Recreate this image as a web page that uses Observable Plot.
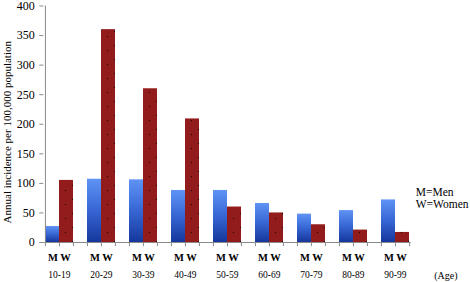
<!DOCTYPE html>
<html>
<head>
<meta charset="utf-8">
<script src="https://cdn.jsdelivr.net/npm/d3@7"></script>
<script src="https://cdn.jsdelivr.net/npm/@observablehq/plot@0.6"></script>
<style>
  html, body { margin: 0; padding: 0; background: #fff; }
  #chart { width: 470px; height: 282px; }
  svg { font-family: "Liberation Serif", "Times New Roman", serif; }
</style>
</head>
<body>
<div id="chart"></div>
<script>
const ages = ["10-19", "20-29", "30-39", "40-49", "50-59", "60-69", "70-79", "80-89", "90-99"];
const men = [27, 107, 106, 88, 88, 66, 48, 54, 72];
const women = [105, 360, 260, 209, 60, 50, 30, 21, 17];
const yTicks = [0, 50, 100, 150, 200, 250, 300, 350, 400];
const yLabel = "Annual incidence per 100,000 population";
const legendLines = ["M=Men", "W=Women"];
const xUnit = "(Age)";

// slots: M, W, (gap) per age group, last gap omitted
const keys = [];
ages.forEach((a, i) => {
  keys.push(a + "|M", a + "|W");
  if (i < ages.length - 1) keys.push(a + "|_");
});
const bars = [];
ages.forEach((a, i) => {
  bars.push({key: a + "|M", sex: "M", value: men[i]});
  bars.push({key: a + "|W", sex: "W", value: women[i]});
});

const W = 470, H = 282;
const mL = 43.3, mR = 59.3, mT = 5.5, mB = 40;
const bw = (W - mL - mR) / keys.length;
const axisGray = "#8a8a8a";

const plot = Plot.plot({
  width: W,
  height: H,
  marginLeft: mL,
  marginRight: mR,
  marginTop: mT,
  marginBottom: mB,
  style: {fontFamily: "'Liberation Serif', 'Times New Roman', serif", background: "white", color: "black"},
  x: {type: "band", domain: keys, padding: 0, axis: null},
  y: {domain: [0, 400], axis: null},
  marks: [
    Plot.barY(bars.filter(d => d.sex === "M"), {x: "key", y: "value", fill: "url(#gradM)"}),
    Plot.barY(bars.filter(d => d.sex === "W"), {x: "key", y: "value", fill: "url(#patW)"}),
    Plot.ruleY([0], {stroke: axisGray, strokeWidth: 1}),
    Plot.ruleX([keys[0]], {x: d => d, dx: -bw / 2, y1: 0, y2: 400, stroke: axisGray}),
    Plot.ruleX(keys, {x: d => d, dx: -bw / 2, y1: 0, y2: -7, stroke: axisGray}),
    Plot.ruleX([keys[keys.length - 1]], {x: d => d, dx: bw / 2, y1: 0, y2: -7, stroke: axisGray}),
    Plot.axisY({ticks: yTicks, tickSize: 4, tickPadding: 5, fontSize: 12, stroke: axisGray, fill: "black", label: null}),
    Plot.text(ages, {x: d => d + "|W", dx: -bw / 2, frameAnchor: "bottom", dy: 18, lineAnchor: "bottom",
      text: () => "M W", fontSize: 10.5, fontWeight: "bold", fill: "black"}),
    Plot.text(ages, {x: d => d + "|W", dx: -bw / 2, frameAnchor: "bottom", dy: 35.5, lineAnchor: "bottom",
      text: d => d, fontSize: 9.5, fill: "black"}),
    Plot.text([xUnit], {frameAnchor: "bottom-right", dx: 23, dy: 36.5, lineAnchor: "bottom", textAnchor: "start",
      text: d => d, fontSize: 10, fill: "black"}),
    Plot.text([legendLines[0]], {frameAnchor: "bottom-right", dx: 4.5, dy: -47, lineAnchor: "bottom", textAnchor: "start",
      text: d => d, fontSize: 11.5, fill: "black"}),
    Plot.text([legendLines[1]], {frameAnchor: "bottom-right", dx: 4.5, dy: -35, lineAnchor: "bottom", textAnchor: "start",
      text: d => d, fontSize: 11.5, fill: "black"}),
    Plot.text([yLabel], {frameAnchor: "left", dx: -36, dy: 8, rotate: -90, textAnchor: "middle", lineAnchor: "middle",
      text: d => d, fontSize: 11, fill: "black"})
  ]
});

// gradient & pattern definitions
const ns = "http://www.w3.org/2000/svg";
const defs = document.createElementNS(ns, "defs");
defs.innerHTML = `
  <linearGradient id="gradM" x1="0" y1="0" x2="0" y2="1">
    <stop offset="0" stop-color="#5f93f4"/>
    <stop offset="0.5" stop-color="#3766d4"/>
    <stop offset="1" stop-color="#15379c"/>
  </linearGradient>
  <pattern id="patW" patternUnits="userSpaceOnUse" width="14" height="14">
    <rect width="14" height="14" fill="#921c1c"/>
    <rect x="2" y="3" width="1" height="1" fill="#1a0505"/>
    <rect x="9" y="8" width="1" height="1" fill="#1a0505"/>
  </pattern>`;
plot.insertBefore(defs, plot.firstChild);
document.getElementById("chart").appendChild(plot);
</script>
</body>
</html>
